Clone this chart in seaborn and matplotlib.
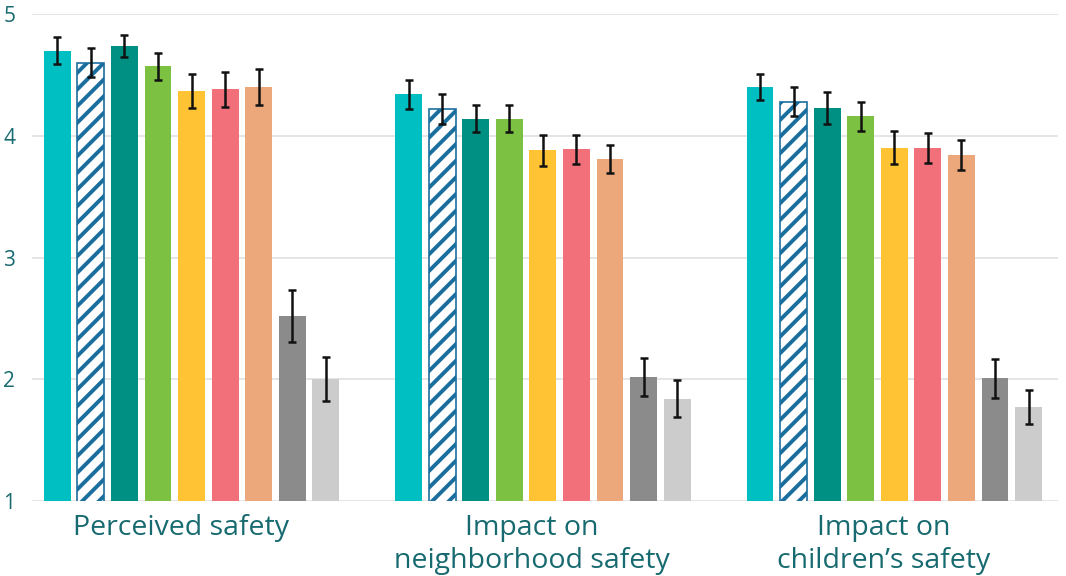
import numpy as np
import pandas as pd
import matplotlib
matplotlib.use("Agg")
import matplotlib.pyplot as plt
import matplotlib.transforms as mtransforms
import seaborn as sns

# Outcome measures (x categories)
categories = ["Perceived safety", "Impact on\nneighborhood safety", "Impact on\nchildren\u2019s safety"]

# Nine comparison groups, drawn as the bars inside each category
groups = ["G1", "G2", "G3", "G4", "G5", "G6", "G7", "G8", "G9"]

# Mean scores per group, one list per category
perceived = [4.70, 4.60, 4.74, 4.57, 4.37, 4.38, 4.40, 2.52, 2.00]
neighborhood = [4.34, 4.22, 4.14, 4.14, 3.88, 3.89, 3.81, 2.02, 1.84]
children = [4.40, 4.28, 4.23, 4.16, 3.90, 3.90, 3.84, 2.01, 1.77]

# Half-widths of the error bars
err_perceived = [0.11, 0.12, 0.09, 0.11, 0.14, 0.145, 0.15, 0.21, 0.18]
err_neighborhood = [0.12, 0.12, 0.11, 0.11, 0.125, 0.12, 0.115, 0.155, 0.15]
err_children = [0.11, 0.12, 0.13, 0.12, 0.135, 0.12, 0.125, 0.16, 0.14]

tick_values = [1, 2, 3, 4, 5]

palette = ["#00bfc3", "#ffffff", "#009083", "#7dc142", "#ffc333",
           "#f1707a", "#eca87a", "#8b8b8b", "#cccccc"]
hatch_color = "#1a6e9e"
text_color = "#176a6f"

rows = []
for cat, vals, errs in zip(categories, [perceived, neighborhood, children],
                           [err_perceived, err_neighborhood, err_children]):
    for g, v, e in zip(groups, vals, errs):
        rows.append({"category": cat, "group": g, "value": v, "err": e})
df = pd.DataFrame(rows)

sns.set_theme(style="white")
plt.rcParams["font.family"] = ["Open Sans", "DejaVu Sans"]
plt.rcParams["hatch.linewidth"] = 2.8

fig = plt.figure(figsize=(10.66, 5.76), dpi=100)
ax = fig.add_axes([32 / 1066, 1 - 501 / 576, (1058 - 32) / 1066, (501 - 14) / 576])

sns.barplot(data=df, x="category", y="value", hue="group", order=categories,
            hue_order=groups, palette=palette, saturation=1, errorbar=None,
            width=0.86, gap=0.2, legend=False, ax=ax, zorder=2, linewidth=0)

# Error bars and hatch styling, one container per group
for gi, (g, container) in enumerate(zip(groups, ax.containers)):
    sub = df[df["group"] == g].set_index("category").loc[categories]
    xs = [p.get_x() + p.get_width() / 2 for p in container.patches]
    ax.errorbar(xs, sub["value"].values, yerr=sub["err"].values, fmt="none",
                ecolor="#111111", elinewidth=1.8, capsize=3.2, capthick=1.8,
                zorder=4)
    if gi == 1:
        for p in container.patches:
            p.set_facecolor("white")
            p.set_edgecolor(hatch_color)
            p.set_hatch("//")
            p.set_linewidth(1.2)

ax.set_ylim(1, 5)
ax.set_xlim(-0.454, 2.466)
ax.set_yticks(tick_values)
ax.yaxis.grid(True, color="#e3e3e3", linewidth=1.3, zorder=0)
ax.set_axisbelow(True)
for s in ax.spines.values():
    s.set_visible(False)
ax.tick_params(axis="y", length=0, pad=12, labelsize=15, labelcolor=text_color)
ax.tick_params(axis="x", length=0, pad=9, labelsize=20.5, labelcolor=text_color)
ax.set_xlabel("")
ax.set_ylabel("")

# Category labels sit slightly left of their bar groups
shift = mtransforms.ScaledTranslation(-11 / 100, 0, fig.dpi_scale_trans)
for lbl in ax.get_xticklabels():
    lbl.set_linespacing(1.25)
    lbl.set_verticalalignment("top")
    lbl.set_transform(lbl.get_transform() + shift)

fig.savefig("out.png", dpi=100)
